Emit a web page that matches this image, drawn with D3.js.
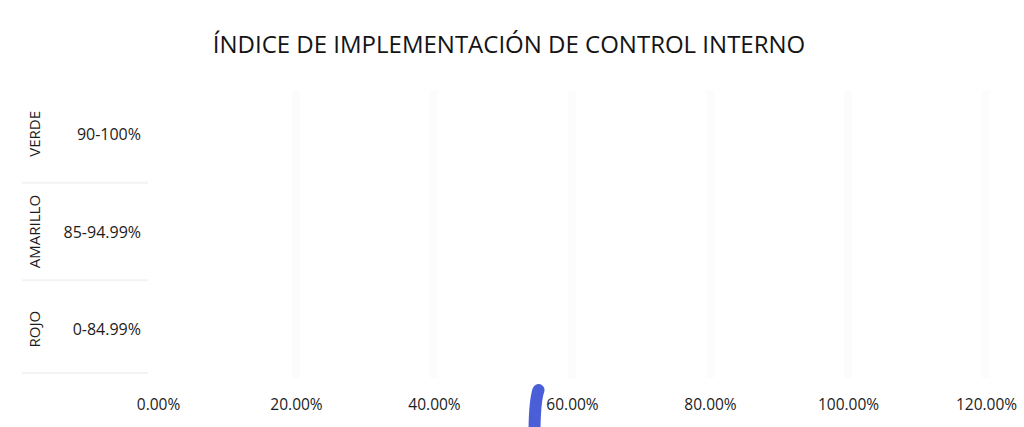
<!DOCTYPE html>
<html>
<head>
<meta charset="utf-8">
<script src="https://cdn.jsdelivr.net/npm/d3@7"></script>
<style>
  html, body { margin: 0; padding: 0; background: #fff; }
  svg { display: block; }
  text { font-family: "Open Sans", Lato, sans-serif; fill: #1c1c1c; }
</style>
</head>
<body>
<svg id="chart" width="1024" height="427"></svg>
<script>
// Semáforo del índice de implementación de control interno
const categorias = ["VERDE", "AMARILLO", "ROJO"];
const rangos = ["90-100%", "85-94.99%", "0-84.99%"];
const ticksX = [0, 20, 40, 60, 80, 100, 120];
const indiceMarcado = [55];
const titulo = "ÍNDICE DE IMPLEMENTACIÓN DE CONTROL INTERNO";

const svg = d3.select("#chart");

const x = d3.scaleLinear().domain([0, 120]).range([158, 986]);
const y = d3.scaleBand().domain(categorias).range([85, 378]);

// barely visible vertical gridlines
svg.append("g")
  .selectAll("line")
  .data(ticksX.slice(1))
  .join("line")
  .attr("x1", d => x(d)).attr("x2", d => x(d))
  .attr("y1", 90).attr("y2", 378)
  .attr("stroke", "#fcfcfc")
  .attr("stroke-width", 8);

// faint separators of the category table
svg.append("g")
  .selectAll("line")
  .data(categorias.slice(1).concat(["__end"]))
  .join("line")
  .attr("x1", 22).attr("x2", 148)
  .attr("y1", (d, i) => i < categorias.length - 1 ? y(d) : y.range()[1] - 5)
  .attr("y2", (d, i) => i < categorias.length - 1 ? y(d) : y.range()[1] - 5)
  .attr("stroke", "#f3f3f3")
  .attr("stroke-width", 2);

// title
svg.append("text")
  .attr("x", 509).attr("y", 53)
  .attr("text-anchor", "middle")
  .style("font-size", "24px")
  .style("fill", "#141414")
  .text(titulo);

// rotated category names
svg.append("g")
  .selectAll("text")
  .data(categorias)
  .join("text")
  .attr("transform", d => `translate(40,${y(d) + y.bandwidth() / 2}) rotate(-90)`)
  .attr("text-anchor", "middle")
  .style("font-size", "15px")
  .text(d => d);

// ranges
svg.append("g")
  .selectAll("text")
  .data(categorias)
  .join("text")
  .attr("x", 141)
  .attr("y", d => y(d) + y.bandwidth() / 2 + 6)
  .attr("text-anchor", "end")
  .style("font-size", "16px")
  .text((d, i) => rangos[i]);

// x axis
const xAxis = d3.axisBottom(x)
  .tickValues(ticksX)
  .tickFormat(d => d3.format(".2f")(d) + "%")
  .tickSize(0)
  .tickPadding(0);

const gx = svg.append("g").attr("transform", "translate(0,399)").call(xAxis);
gx.select(".domain").remove();
gx.selectAll("text")
  .style("font-size", "15.5px")
  .style("font-family", "\"Open Sans\", Lato, sans-serif")
  .attr("fill", "#1c1c1c");

// hand-drawn marker stroke at the index value
svg.append("g")
  .selectAll("path")
  .data(indiceMarcado)
  .join("path")
  .attr("d", d => {
    const cx = x(d);
    return `M${cx + 1},390 C${cx - 1},396 ${cx - 3},404 ${cx - 3},434`;
  })
  .attr("fill", "none")
  .attr("stroke", "#4a5ed8")
  .attr("stroke-width", 12)
  .attr("stroke-linecap", "round");
</script>
</body>
</html>
